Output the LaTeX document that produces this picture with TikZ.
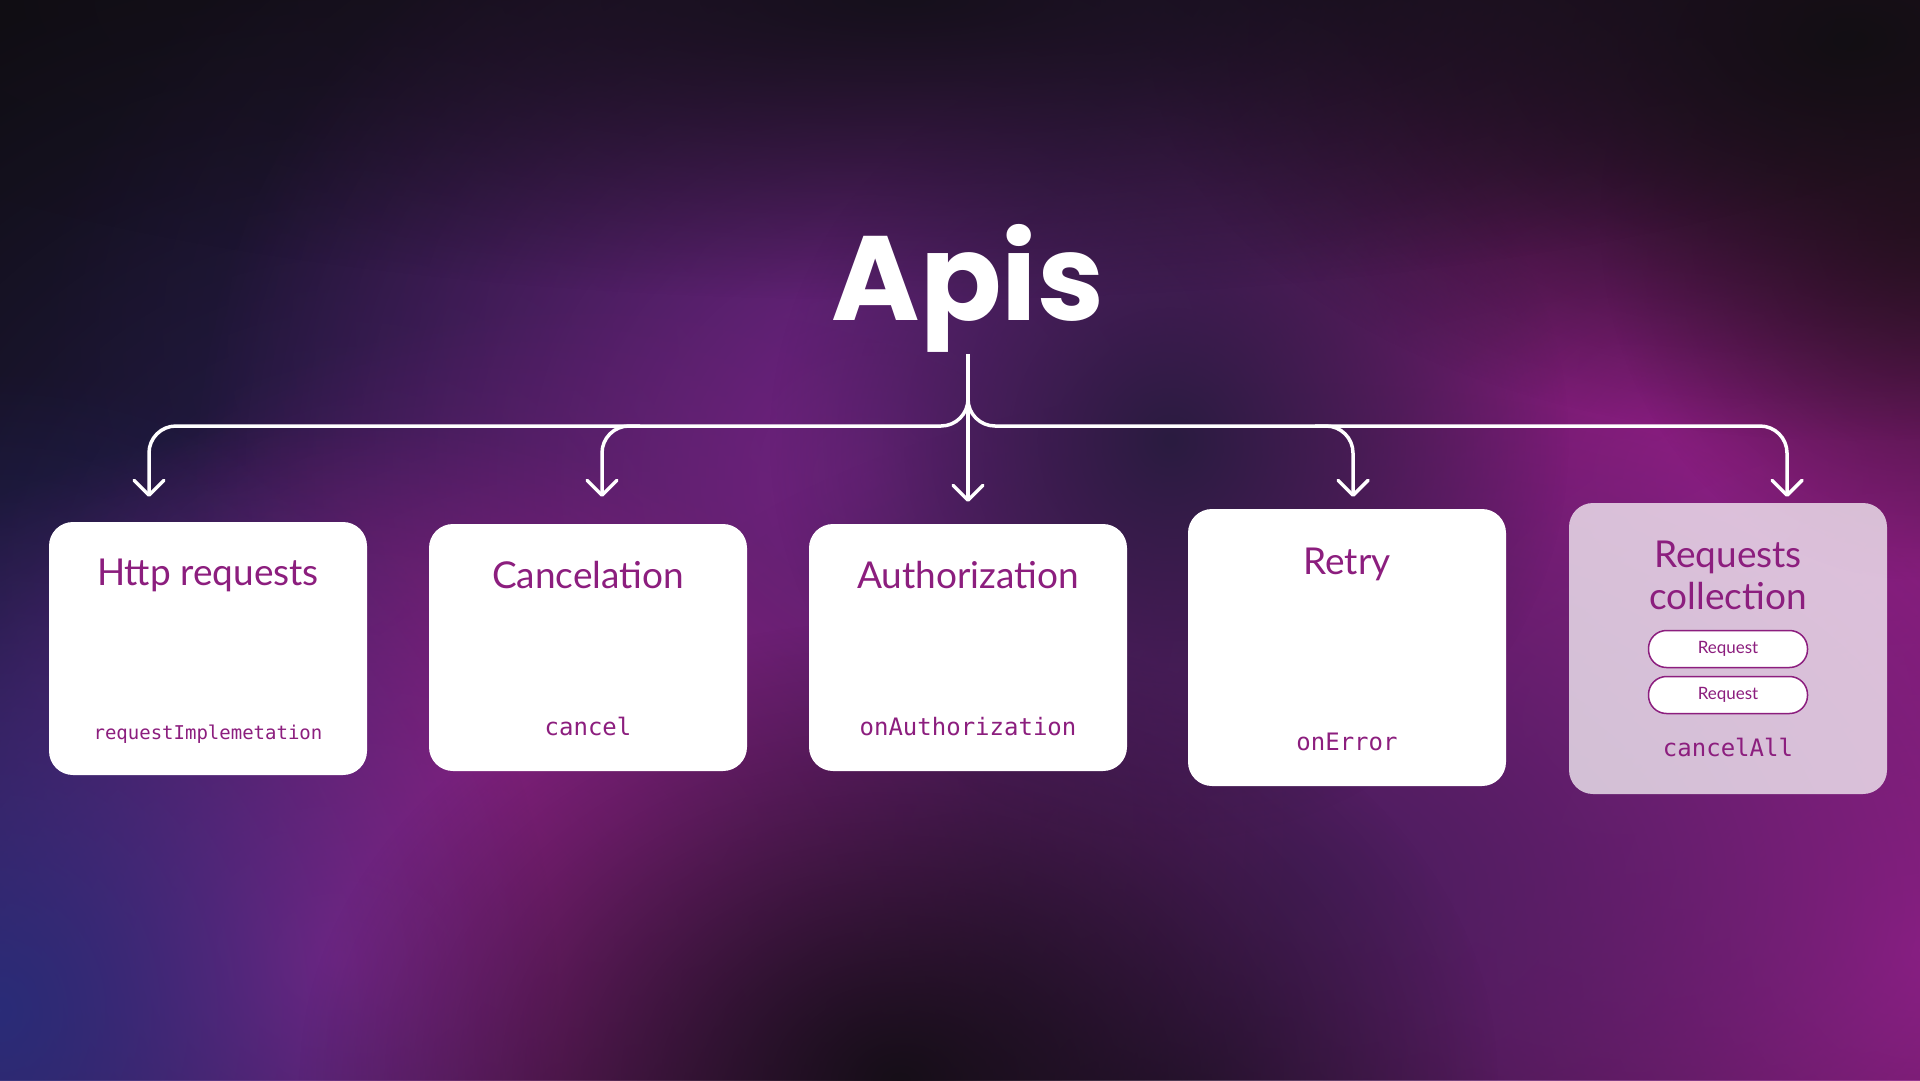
\documentclass[tikz,border=0pt]{standalone}
\usepackage{fontspec}
\setmainfont{Lato}
\setmonofont{DejaVu Sans Mono}
\newfontfamily\headfont{Poppins}
\usepackage{tikz}
\usetikzlibrary{arrows.meta,positioning,fadings}
\definecolor{apink}{RGB}{140,30,126}
\definecolor{apnight}{RGB}{15,13,17}
\tikzfading[name=glowfade, inner color=transparent!0, outer color=transparent!100]
\tikzstyle{card} = [rectangle, rounded corners=24pt, fill=white, inner sep=0pt, minimum width=318pt]
\tikzstyle{arrow} = [line width=3.5pt, white, -{Straight Barb[length=15pt,width=30pt,round]}, rounded corners=27pt]
\tikzstyle{heading} = [text=apink, font=\fontsize{37}{44}\selectfont, anchor=base, inner sep=0pt]
\tikzstyle{code} = [text=apink, font=\ttfamily\fontsize{24}{28}\selectfont, anchor=base, inner sep=0pt]
\tikzstyle{pill} = [rectangle, rounded corners=18pt, draw=apink, line width=1.5pt, fill=white, minimum width=159pt, minimum height=37pt, inner sep=0pt, text=apink, font=\fontsize{17}{20}\selectfont]
\newcommand{\glowspot}[5]{\fill[fill={rgb,255:#5}, path fading=glowfade] (#1,#2) ellipse[x radius=2*#3pt, y radius=2*#4pt];}

\begin{document}
\begin{tikzpicture}[x=1pt, y=-1pt]
% Background
\useasboundingbox (0,0) rectangle (1920,1080);
\begin{scope}
\clip (0,0) rectangle (1920,1080);
\fill[apnight] (0,0) rectangle (1920,1080);
\glowspot{1000}{330}{480}{300}{red,60;green,28;blue,82}
\glowspot{350}{580}{360}{320}{red,36;green,28;blue,74}
\glowspot{870}{480}{340}{340}{red,114;green,36;blue,132}
\glowspot{1720}{480}{380}{330}{red,146;green,30;blue,130}
\glowspot{1620}{720}{340}{280}{red,124;green,30;blue,124}
\glowspot{1920}{950}{380}{380}{red,152;green,32;blue,140}
\glowspot{1300}{880}{400}{250}{red,75;green,30;blue,95}
\glowspot{620}{820}{340}{260}{red,112;green,32;blue,118}
\glowspot{340}{960}{340}{270}{red,152;green,34;blue,138}
\glowspot{0}{1010}{280}{320}{red,42;green,44;blue,120}
\glowspot{900}{1080}{300}{230}{red,22;green,14;blue,24}
\glowspot{1170}{440}{200}{200}{red,42;green,27;blue,64}
\glowspot{1920}{220}{160}{180}{red,58;green,18;blue,46}
\glowspot{1850}{40}{350}{200}{red,18;green,14;blue,18}
\glowspot{900}{0}{600}{150}{red,22;green,16;blue,28}
\end{scope}

% Title
\node[text=white, font=\headfont\bfseries\fontsize{120}{140}\selectfont, anchor=base, inner sep=0pt] (apis) at (968,320) {Apis};

% Cards
\node[card, minimum height=253pt] (http) at (208,648.5) {};
\node[card, minimum height=247pt] (cancel) at (588,647.5) {};
\node[card, minimum height=247pt] (auth) at (968,647.5) {};
\node[card, minimum height=277pt] (retry) at (1347,647.5) {};
\node[card, minimum height=291pt, fill opacity=0.72] (coll) at (1728,648.5) {};

% Card texts
\node[heading] (httpT) at (208,585) {Http requests};
\node[heading] (cancelT) at (588,588) {Cancelation};
\node[heading] (authT) at (968,588) {Authorization};
\node[heading] (retryT) at (1347,574) {Retry};
\node[heading] (collT) at (1728,567) {Requests};
\node[heading] (collT2) at (1728,609) {collection};
\node[code, font=\ttfamily\fontsize{19}{23}\selectfont] (httpC) at (208,739) {requestImplemetation};
\node[code] (cancelC) at (588,735) {cancel};
\node[code] (authC) at (968,735) {onAuthorization};
\node[code] (retryC) at (1347,750) {onError};
\node[code] (collC) at (1728,756) {cancelAll};
\node[pill] (req1) at (1728,649) {Request};
\node[pill] (req2) at (1728,695) {Request};

% Connectors
\coordinate (stem) at (968,354);
\coordinate (split) at (968,399);
\coordinate (httpIn) at (149,497);
\coordinate (cancelIn) at (602,497);
\coordinate (authIn) at (968,502);
\coordinate (retryIn) at (1353,497);
\coordinate (collIn) at (1787,497);
\draw[arrow] (stem) -- (authIn);
\draw[arrow] (split) |- (httpIn |- 0,426) -- (httpIn);
\draw[arrow] (split) |- (collIn |- 0,426) -- (collIn);
\draw[arrow] (640,426) -| (cancelIn);
\draw[arrow] (1315,426) -| (retryIn);
\end{tikzpicture}
\end{document}
